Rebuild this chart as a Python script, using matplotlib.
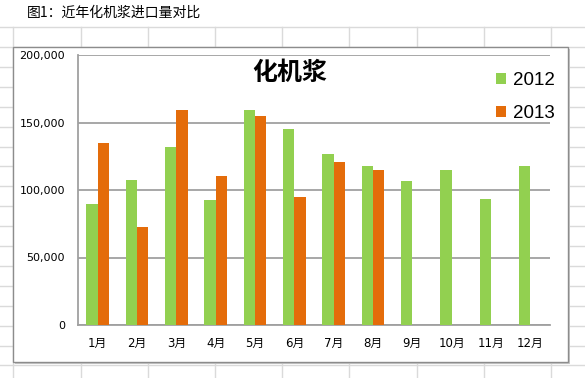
import matplotlib
matplotlib.use("Agg")
import matplotlib.pyplot as plt
from matplotlib.patches import Rectangle
from matplotlib.ticker import FuncFormatter
import numpy as np

months = ["1月", "2月", "3月", "4月", "5月", "6月", "7月", "8月", "9月", "10月", "11月", "12月"]
series_names = ["2012", "2013"]
values_2012 = [89600, 107400, 132000, 92600, 159000, 145000, 127000, 118000, 107000, 115000, 93300, 118000]
values_2013 = [134500, 72300, 159000, 110400, 154800, 95000, 121000, 115000, None, None, None, None]
y_ticks = [0, 50000, 100000, 150000, 200000]
chart_title = "化机浆"
fig_title = "图1：近年化机浆进口量对比"

W, H = 585, 378
fig = plt.figure(figsize=(W / 100, H / 100), dpi=100)
fig.patch.set_facecolor("white")

# background spreadsheet layer in pixel coords
bg = fig.add_axes([0, 0, 1, 1])
bg.set_xlim(0, W)
bg.set_ylim(H, 0)
bg.axis("off")
gridc = "#dadada"
for xx in np.arange(13.3, W, 67.2):
    bg.plot([xx, xx], [27, H], color=gridc, lw=1, zorder=0)
bg.plot([0, W], [27, 27], color=gridc, lw=1, zorder=0)
for yy in np.arange(47, H, 19.9):
    bg.plot([0, W], [yy, yy], color=gridc, lw=1, zorder=0)
# chart box shadow and frame
bg.add_patch(Rectangle((15, 48.5), 555, 315, facecolor="#c8c8c8", edgecolor="none", zorder=1))
bg.add_patch(Rectangle((13.3, 46.5), 555, 315, facecolor="white", edgecolor="#8c8c8c", lw=1.0, zorder=2))
bg.text(27, 13, fig_title, fontsize=10, family=["Noto Sans CJK SC", "DejaVu Sans"],
        ha="left", va="center", color="#000000", zorder=3)
bg.text(290, 72.5, chart_title, fontsize=18, fontweight="bold",
        family=["Noto Sans CJK SC", "DejaVu Sans"], ha="center", va="center", color="black", zorder=3)

# main axes
left, right, top, bottom = 78, 550, 55, 325
ax = fig.add_axes([left / W, (H - bottom) / H, (right - left) / W, (bottom - top) / H])
ax.set_facecolor("none")
x = np.arange(len(months))
bw = 0.29
green = "#92d050"
orange = "#e46c0a"
v13 = [v if v is not None else np.nan for v in values_2013]
ax.bar(x - bw / 2, values_2012, width=bw, color=green, zorder=3, label=series_names[0])
ax.bar(x + bw / 2, v13, width=bw, color=orange, zorder=3, label=series_names[1])
ax.set_xlim(-0.5, len(months) - 0.5)
ax.set_ylim(0, 200000)
ax.set_yticks(y_ticks)
ax.yaxis.set_major_formatter(FuncFormatter(lambda v, p: f"{int(v):,}"))
ax.set_xticks(x)
ax.set_xticklabels(months, family=["DejaVu Sans", "Noto Sans CJK SC"], fontsize=8.5)
for lab in ax.get_yticklabels():
    lab.set_fontsize(8)
    lab.set_family("DejaVu Sans")
ax.tick_params(axis="y", length=0, pad=9.4, colors="#000000")
ax.tick_params(axis="x", length=0, pad=8.5, colors="#000000")
ax.grid(axis="y", color="#a0a0a0", lw=1.3, zorder=1)
for s in ["top", "right"]:
    ax.spines[s].set_visible(False)
for s in ["left", "bottom"]:
    ax.spines[s].set_color("#a0a0a0")
    ax.spines[s].set_linewidth(1.3)

leg = ax.legend(loc="upper left", bbox_to_anchor=(496 / W, 1 - 72 / H), bbox_transform=fig.transFigure,
                frameon=False, prop={"family": "Liberation Sans", "size": 13.5},
                handlelength=0.55, handleheight=0.55, handletextpad=0.35, labelspacing=0.85,
                borderpad=0, borderaxespad=0)

fig.savefig("out.png", dpi=100)
